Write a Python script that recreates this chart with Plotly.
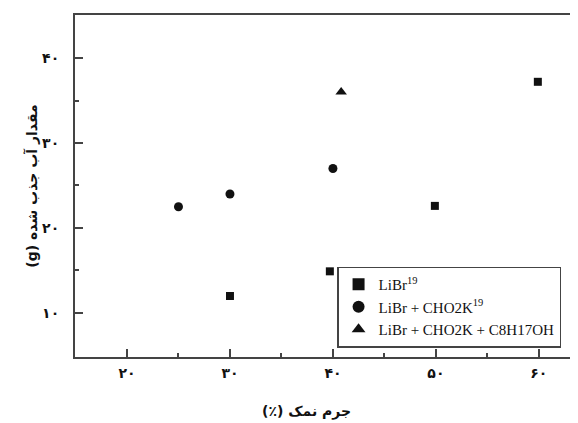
import plotly.graph_objects as go

# data
libr_x = [30, 39.7, 49.9, 59.9]
libr_y = [12.0, 14.9, 22.6, 37.2]
cho_x = [25, 30, 40]
cho_y = [22.5, 24.0, 27.0]
oct_x = [40.8]
oct_y = [36.0]

x_ticks = [20, 30, 40, 50, 60]
x_ticktext = ["<b>۲۰</b>", "<b>۳۰</b>", "<b>۴۰</b>", "<b>۵۰</b>", "<b>۶۰</b>"]
y_ticks = [10, 20, 30, 40]
y_ticktext = ["<b>۱۰</b>", "<b>۲۰</b>", "<b>۳۰</b>", "<b>۴۰</b>"]

names = ["LiBr<sup>19</sup>", "LiBr + CHO2K<sup>19</sup>", "LiBr + CHO2K + C8H17OH"]
x_title = "<b>\u202bجرم نمک (٪)\u202c</b>"
y_title = "<b>\u202bمقدار آب جذب شده (g)\u202c</b>"

fig = go.Figure()
fig.add_trace(go.Scatter(x=libr_x, y=libr_y, mode="markers", name=names[0],
                         marker=dict(symbol="square", size=8, color="#111")))
fig.add_trace(go.Scatter(x=cho_x, y=cho_y, mode="markers", name=names[1],
                         marker=dict(symbol="circle", size=9, color="#111")))
fig.add_trace(go.Scatter(x=oct_x, y=oct_y, mode="markers", name=names[2],
                         marker=dict(symbol="triangle-up", size=10, color="#111")))

tick_font = dict(family="DejaVu Sans", size=14, color="#111")
fig.update_layout(
    width=570, height=415,
    margin=dict(l=67, r=0, t=7, b=66, autoexpand=False),
    plot_bgcolor="white", paper_bgcolor="white",
    legend=dict(x=0.521, y=0.146, xanchor="left", yanchor="middle",
                bordercolor="#444", borderwidth=1.5, bgcolor="white",
                font=dict(family="Liberation Serif", size=15, color="#111"),
                tracegroupgap=0, itemsizing="constant"),
    xaxis=dict(range=[14.95, 63.8], tickmode="array", tickvals=x_ticks, ticktext=x_ticktext,
               ticks="inside", ticklen=8, tickwidth=1.5, tickcolor="#444",
               showline=True, linecolor="#444", linewidth=2, mirror=True,
               showgrid=False, zeroline=False, tickfont=tick_font,
               ticklabelstandoff=2,
               minor=dict(tickvals=[25, 35, 45, 55], ticks="inside", ticklen=4, tickcolor="#444", tickwidth=1.5)),
    yaxis=dict(range=[4.82, 45.06], tickmode="array", tickvals=y_ticks, ticktext=y_ticktext,
               ticks="inside", ticklen=8, tickwidth=1.5, tickcolor="#444",
               showline=True, linecolor="#444", linewidth=2, mirror=False,
               showgrid=False, zeroline=False, tickfont=tick_font,
               ticklabelstandoff=11,
               minor=dict(tickvals=[15, 25, 35], ticks="inside", ticklen=4, tickcolor="#444", tickwidth=1.5),
               title=dict(text=y_title, font=dict(family="DejaVu Sans", size=14, color="#111"), standoff=1)),
    annotations=[dict(text=x_title, xref="paper", yref="paper", x=0.461, y=-0.158,
                      xanchor="center", yanchor="middle", showarrow=False,
                      font=dict(family="DejaVu Sans", size=14, color="#111"))],
)
fig.write_html("out.html")
